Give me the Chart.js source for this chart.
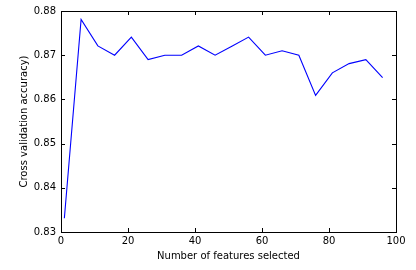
<!DOCTYPE html>
<html><head><meta charset="utf-8">
<script src="https://cdn.jsdelivr.net/npm/chart.js@4/dist/chart.umd.min.js"></script>
<style>html,body{margin:0;padding:0;background:#fff}canvas{display:block}</style>
</head><body>
<canvas id="c" width="416" height="270"></canvas>
<script>
const nFeatures = [1,6,11,16,21,26,31,36,41,46,51,56,61,66,71,76,81,86,91,96];
const cvScores = [0.8331,0.8781,0.8721,0.8700,0.8741,0.8690,0.8700,0.8700,0.8721,0.8700,0.8720,0.8741,0.8700,0.8710,0.8700,0.8609,0.8660,0.8681,0.8690,0.8649];
const xTicks = [0,20,40,60,80,100];
const yTicks = [0.83,0.84,0.85,0.86,0.87,0.88];
const FONT = "DejaVu Sans";

const frame = {
  id:'frame',
  afterDraw(chart){
    const {ctx, chartArea:a, scales:{x,y}} = chart;
    ctx.save();
    ctx.strokeStyle='#000'; ctx.lineWidth=1;
    ctx.beginPath();
    const L=4;
    xTicks.forEach(v=>{const px=Math.round(x.getPixelForValue(v))+0.5;
      ctx.moveTo(px,a.bottom);ctx.lineTo(px,a.bottom-L);
      ctx.moveTo(px,a.top);ctx.lineTo(px,a.top+L);});
    yTicks.forEach(v=>{const py=Math.round(y.getPixelForValue(v))+0.5;
      ctx.moveTo(a.left,py);ctx.lineTo(a.left+L,py);
      ctx.moveTo(a.right,py);ctx.lineTo(a.right-L,py);});
    ctx.stroke();
    ctx.strokeRect(Math.round(a.left)+0.5,Math.round(a.top)+0.5,Math.round(a.right-a.left),Math.round(a.bottom-a.top));
    ctx.restore();
  }
};

new Chart(document.getElementById('c'),{
  type:'line',
  data:{datasets:[{data:nFeatures.map((v,i)=>({x:v,y:cvScores[i]})),borderColor:'#0000ff',borderWidth:1.1,pointRadius:0,tension:0,fill:false}]},
  options:{
    responsive:false,animation:false,
    layout:{padding:{top:10,right:20,left:0,bottom:0}},
    plugins:{legend:{display:false},tooltip:{enabled:false}},
    scales:{
      x:{type:'linear',min:0,max:100,
        afterBuildTicks(s){s.ticks=xTicks.map(v=>({value:v}));},
        afterFit(s){s.height=38;},
        grid:{display:false,drawTicks:false},border:{display:false},
        ticks:{color:'#000',font:{family:FONT,size:10},padding:3,maxRotation:0,callback:v=>String(v)},
        title:{display:true,text:'Number of features selected',color:'#000',font:{family:FONT,size:10},padding:{top:2,bottom:8}}},
      y:{type:'linear',min:0.83,max:0.88,
        afterBuildTicks(s){s.ticks=yTicks.map(v=>({value:v}));},
        afterFit(s){s.width=61;},
        grid:{display:false,drawTicks:false},border:{display:false},
        ticks:{color:'#000',font:{family:FONT,size:10},padding:5,callback:v=>v.toFixed(2)},
        title:{display:true,text:'Cross validation accuracy)',color:'#000',font:{family:FONT,size:10},padding:{top:18,bottom:4}}}
    }
  },
  plugins:[frame]
});
</script>
</body></html>
